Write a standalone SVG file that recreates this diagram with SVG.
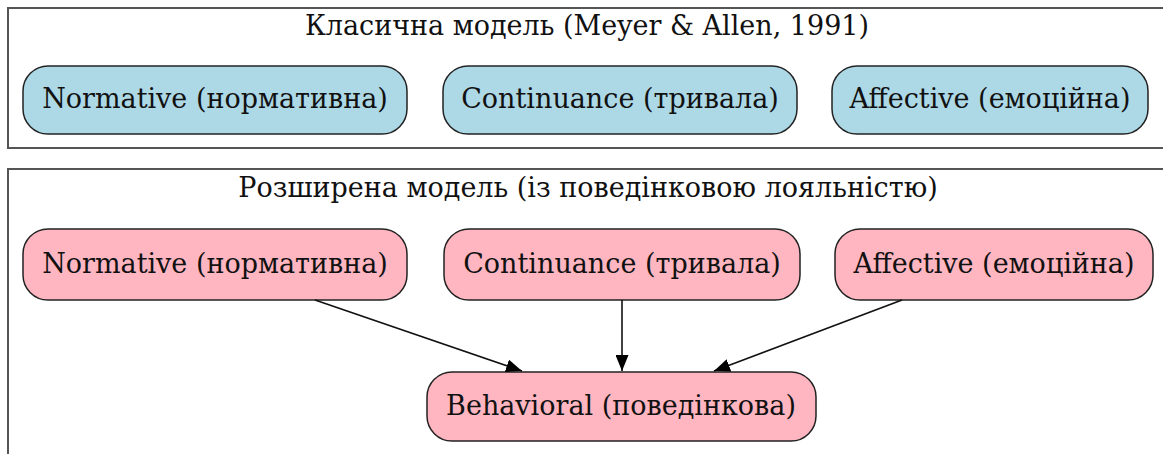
<svg xmlns="http://www.w3.org/2000/svg" width="1163" height="454" viewBox="0 0 1163 454">
<defs>
<style>
.cl{fill:#fff;stroke:#555;stroke-width:2}
.t{font-family:"DejaVu Serif",serif;font-size:27px;fill:#111;text-anchor:middle}
.b{fill:#add8e6;stroke:#222;stroke-width:1.5}
.p{fill:#ffb6c1;stroke:#222;stroke-width:1.5}
.e{stroke:#111;stroke-width:1.6;fill:none;marker-end:url(#ah)}
</style>
<marker id="ah" viewBox="0 0 16 13" refX="16" refY="6.5" markerWidth="16" markerHeight="13" markerUnits="userSpaceOnUse" orient="auto"><path d="M0,0 L16,6.5 L0,13 z" fill="#000"/></marker>
</defs>
<rect fill="#fff" width="1163" height="454"/>
<g id="cluster1">
<rect class="cl" x="8" y="8" width="1170" height="140"/>
<text class="t" x="587" y="35">Класична модель (Meyer &amp; Allen, 1991)</text>
</g>
<g id="cluster2">
<rect class="cl" x="8" y="169" width="1170" height="300"/>
<text class="t" x="588" y="197">Розширена модель (із поведінковою лояльністю)</text>
</g>
<g id="c1_normative"><rect class="b" x="23" y="66" width="384" height="68" rx="25"/><text class="t" x="215" y="108">Normative (нормативна)</text></g>
<g id="c1_continuance"><rect class="b" x="443" y="66" width="354" height="68" rx="25"/><text class="t" x="620" y="108">Continuance (тривала)</text></g>
<g id="c1_affective"><rect class="b" x="832" y="66" width="316" height="68" rx="25"/><text class="t" x="990" y="108">Affective (емоційна)</text></g>
<g id="c2_normative"><rect class="p" x="23" y="229" width="384" height="71" rx="25"/><text class="t" x="215" y="273">Normative (нормативна)</text></g>
<g id="c2_continuance"><rect class="p" x="444" y="229" width="356" height="71" rx="25"/><text class="t" x="622" y="273">Continuance (тривала)</text></g>
<g id="c2_affective"><rect class="p" x="835" y="229" width="318" height="71" rx="25"/><text class="t" x="994" y="273">Affective (емоційна)</text></g>
<g id="c2_behavioral"><rect class="p" x="427" y="372" width="389" height="69" rx="25"/><text class="t" x="621" y="415">Behavioral (поведінкова)</text></g>
<g id="edges">
<line class="e" x1="315" y1="300" x2="522" y2="371"/>
<line class="e" x1="622" y1="300" x2="622" y2="371"/>
<line class="e" x1="902" y1="300" x2="714" y2="371"/>
</g>
</svg>
